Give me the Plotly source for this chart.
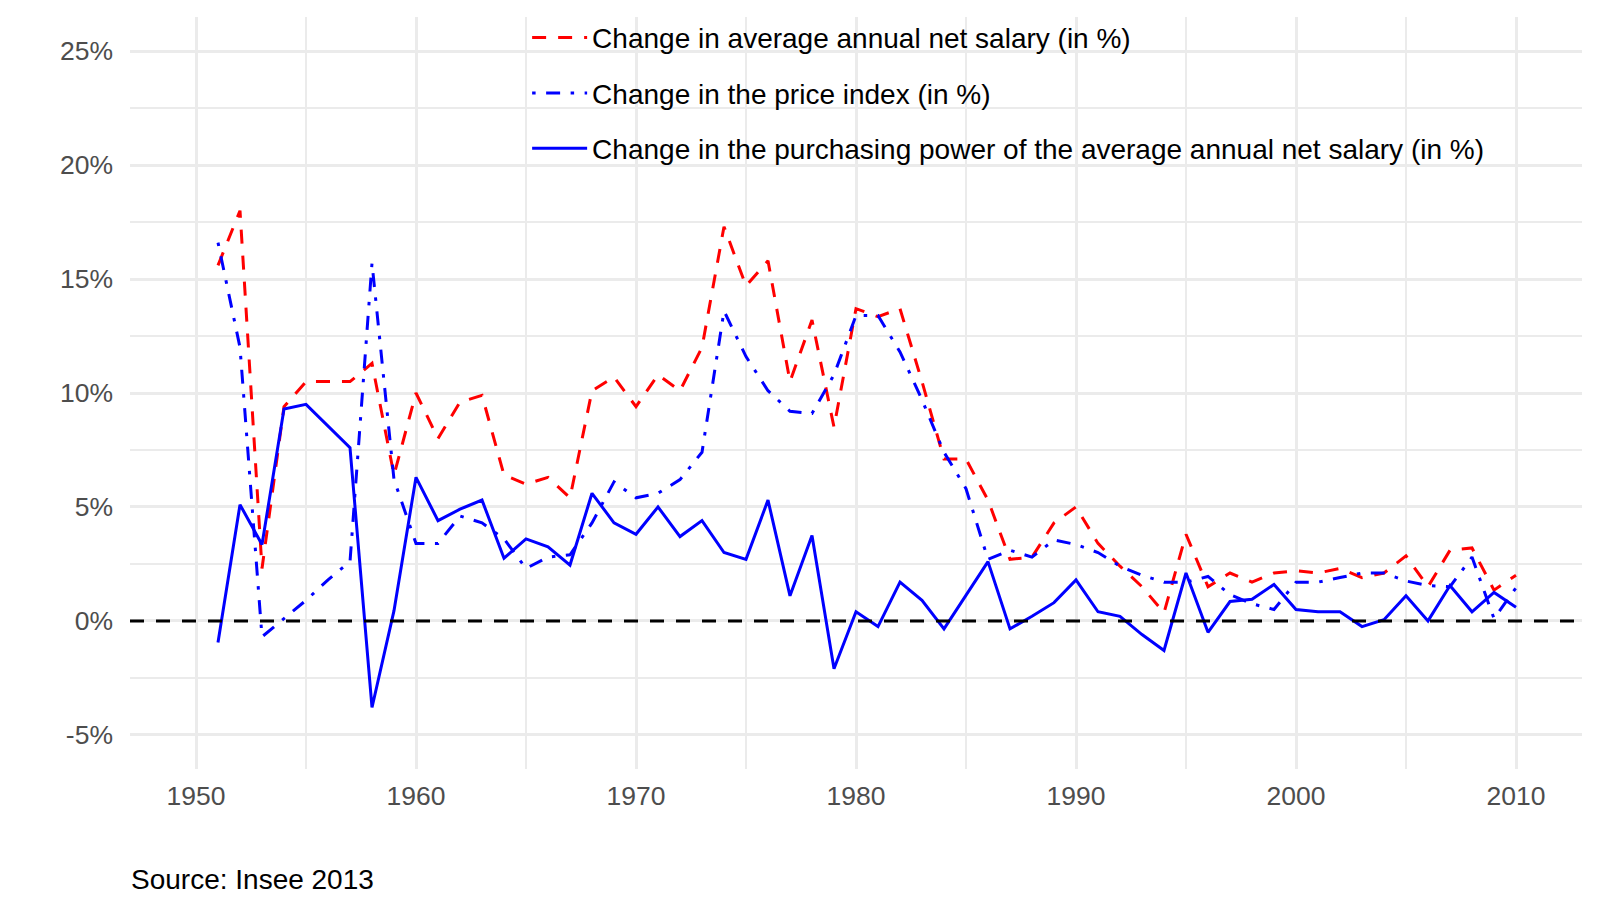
import plotly.graph_objects as go

years = list(range(1951, 2011))

salary_change = [15.6, 18.0, 2.3, 9.4, 10.5, 10.5, 10.5, 11.3, 6.4, 10.0,
                 8.0, 9.6, 9.9, 6.4, 6.0, 6.3, 5.4, 10.1, 10.7, 9.4,
                 10.8, 10.1, 12.0, 17.3, 14.7, 15.8, 10.5, 13.2, 8.5, 13.7,
                 13.35, 13.7, 10.5, 7.1, 7.1, 5.3, 2.7, 2.8, 4.3, 5.0,
                 3.4, 2.4, 1.5, 0.35, 3.8, 1.5, 2.1, 1.7, 2.1, 2.2,
                 2.1, 2.3, 1.9, 2.1, 2.85, 1.5, 3.1, 3.2, 1.35, 2.0]

price_change = [16.6, 12.0, -0.7, 0.1, 0.9, 1.8, 2.6, 15.7, 6.2, 3.4,
                3.4, 4.6, 4.3, 3.6, 2.3, 2.8, 2.9, 4.3, 6.1, 5.4,
                5.6, 6.2, 7.4, 13.6, 11.6, 10.1, 9.2, 9.1, 10.8, 13.4,
                13.4, 11.8, 9.7, 7.4, 5.8, 2.7, 3.1, 2.8, 3.55, 3.35,
                3.0, 2.4, 2.0, 1.7, 1.7, 1.95, 1.15, 0.75, 0.5, 1.7,
                1.7, 1.9, 2.1, 2.1, 1.75, 1.55, 1.5, 2.8, 0.1, 1.45]

power_change = [-0.95, 5.1, 3.35, 9.3, 9.5, 8.55, 7.6, -3.8, 0.45, 6.3,
                4.4, 4.9, 5.3, 2.75, 3.6, 3.25, 2.45, 5.6, 4.3, 3.8,
                5.0, 3.7, 4.4, 3.0, 2.7, 5.3, 1.1, 3.75, -2.1, 0.4,
                -0.25, 1.7, 0.9, -0.35, 1.1, 2.6, -0.35, 0.2, 0.8, 1.8,
                0.4, 0.2, -0.6, -1.3, 2.1, -0.5, 0.85, 0.95, 1.6, 0.5,
                0.4, 0.4, -0.25, 0.05, 1.1, 0.0, 1.55, 0.4, 1.25, 0.6]

series_names = ["Change in average annual net salary (in %)",
                "Change in the price index (in %)",
                "Change in the purchasing power of the average annual net salary (in %)"]

x_ticks = [1950, 1960, 1970, 1980, 1990, 2000, 2010]
y_ticks = [-5, 0, 5, 10, 15, 20, 25]
y_ticklabels = [f"{v}%" for v in y_ticks]
caption = "Source: Insee 2013"

FONT = "Liberation Sans"
GRID = "#EBEBEB"

fig = go.Figure()
fig.add_trace(go.Scatter(x=years, y=salary_change, mode="lines", name=series_names[0],
                         legendgroup="a",
                         line=dict(color="#FF0000", width=3, dash="14px,12px")))
fig.add_trace(go.Scatter(x=years, y=price_change, mode="lines", name=series_names[1],
                         legendgroup="b",
                         line=dict(color="#0000FF", width=3, dash="3.5px,10.5px,14px,10.5px")))
fig.add_trace(go.Scatter(x=years, y=power_change, mode="lines", name=series_names[2],
                         legendgroup="c",
                         line=dict(color="#0000FF", width=3)))

fig.add_hline(y=0, line=dict(color="black", width=3, dash="14px,12px"), layer="above")

fig.add_annotation(text=caption, xref="paper", yref="paper", x=-0.001, y=-0.1476,
                   xanchor="left", yanchor="middle", showarrow=False,
                   font=dict(family=FONT, size=28, color="black"))

# page body has an 8px default margin: compensate so the panel lands where intended
fig.update_layout(
    width=1592, height=906,
    margin=dict(l=122, r=18, t=9, b=145, autoexpand=False),
    paper_bgcolor="white", plot_bgcolor="white",
    font=dict(family=FONT, size=28, color="black"),
    showlegend=True,
    legend=dict(x=0.2735, y=1.0055, xanchor="left", yanchor="top",
                bgcolor="rgba(0,0,0,0)", font=dict(family=FONT, size=28, color="black"),
                tracegroupgap=16, itemwidth=55, traceorder="grouped"),
    xaxis=dict(range=[1947, 2013], tickmode="array", tickvals=x_ticks,
               showgrid=True, gridcolor=GRID, gridwidth=2.8, zeroline=False,
               showline=False, ticks="", ticklabelstandoff=8, automargin=False,
               tickfont=dict(family=FONT, size=26.5, color="#4D4D4D"),
               minor=dict(dtick=5, tick0=1945, showgrid=True, gridcolor=GRID, gridwidth=1.6)),
    yaxis=dict(range=[-6.5, 26.5], tickmode="array", tickvals=y_ticks, ticktext=y_ticklabels,
               showgrid=True, gridcolor=GRID, gridwidth=2.8, zeroline=False,
               showline=False, ticks="", ticklabelstandoff=16, automargin=False,
               tickfont=dict(family=FONT, size=26.5, color="#4D4D4D"),
               minor=dict(dtick=2.5, tick0=-5, showgrid=True, gridcolor=GRID, gridwidth=1.6)),
)

fig.write_html("out.html")
